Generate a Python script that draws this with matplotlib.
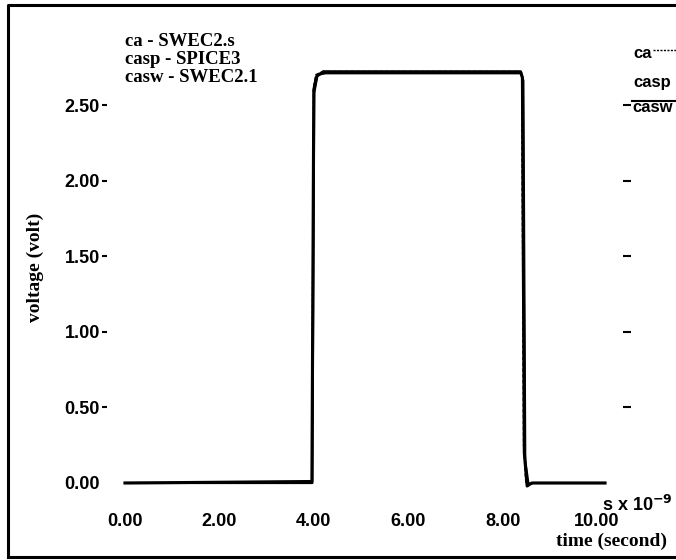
import matplotlib
matplotlib.use('Agg')
import matplotlib.pyplot as plt
from matplotlib.lines import Line2D

# waveforms (time in ns, voltage in volt)
t_ca = [0.0, 3.96, 4.00, 4.06, 4.20, 8.38, 8.42, 8.46, 8.52, 8.62, 10.17]
v_ca = [0.0, 0.01, 2.60, 2.69, 2.72, 2.72, 2.68, 0.20, -0.02, 0.0, 0.0]
t_casp = [0.0, 3.97, 4.01, 4.08, 4.25, 8.40, 8.44, 8.48, 8.55, 8.65, 10.17]
v_casp = [0.0, 0.0, 2.58, 2.70, 2.71, 2.71, 2.66, 0.15, -0.01, 0.0, 0.0]
t_casw = [0.0, 3.96, 4.00, 4.05, 4.20, 8.37, 8.41, 8.45, 8.50, 8.60, 10.17]
v_casw = [0.0, 0.0, 2.62, 2.70, 2.72, 2.72, 2.69, 0.25, -0.01, 0.0, 0.0]

xticks = [0, 2, 4, 6, 8, 10]
yticks = [0.5, 1.0, 1.5, 2.0, 2.5]
legend_lines = ['ca - SWEC2.s', 'casp - SPICE3', 'casw - SWEC2.1']

W, H = 676, 560
fig = plt.figure(figsize=(W / 100, H / 100), dpi=100)

def px(x, y):
    return x / W, 1 - y / H

# axes placed in pixel units
ax = fig.add_axes([107 / W, (H - 495) / H, 520 / W, 455 / H])
ax.plot(t_ca, v_ca, color='black', lw=2.2)
ax.plot(t_casp, v_casp, color='black', lw=1.6)
ax.plot(t_casw, v_casw, color='black', lw=1.4, ls=(0, (2, 1)))
ax.set_xlim(-0.381, 10.636)
ax.set_ylim(-0.0794, 2.930)
for s in ax.spines.values():
    s.set_visible(False)

sans = 'Liberation Sans'
ax.set_xticks(xticks)
ax.set_xticklabels(['%.2f' % v for v in xticks], fontfamily=sans, fontweight='bold', fontsize=13)
ax.set_yticks(yticks)
ax.set_yticklabels(['%.2f' % v for v in yticks], fontfamily=sans, fontweight='bold', fontsize=13)
# 0.00 has a label but no dash
ax.set_yticks([0.0], minor=True)
ax.set_yticklabels(['0.00'], minor=True, fontfamily=sans, fontweight='bold', fontsize=13)
ax.tick_params(axis='x', length=0, pad=12.6)
ax.tick_params(axis='y', which='major', direction='out', length=3.6, width=1.5, pad=1.5)
ax.tick_params(axis='y', which='minor', length=0, pad=5.1)

ax2 = ax.twinx()
ax2.set_ylim(ax.get_ylim())
ax2.set_yticks(yticks)
ax2.set_yticklabels([])
ax2.tick_params(axis='y', direction='inout', length=5.8, width=1.5)
for s in ax2.spines.values():
    s.set_visible(False)

serif = 'Liberation Serif'
for i, s in enumerate(legend_lines):
    fig.text(*px(125, 42 + i * 18), s, fontfamily=serif, fontweight='bold',
             fontsize=13.5, va='center', ha='left')

fig.text(*px(35, 267), 'voltage (volt)', rotation=90, fontfamily=serif,
         fontweight='bold', fontsize=14, ha='center', va='center')
fig.text(*px(612, 541), 'time (second)', fontfamily=serif, fontweight='bold',
         fontsize=14, ha='center', va='center')
fig.text(*px(602, 505), r's x 10$^{\mathbf{-9}}$', fontfamily=sans, fontweight='bold',
         fontsize=13, ha='left', va='center')

# clipped legend on the right
fig.text(*px(633, 53), 'ca', fontfamily=sans, fontweight='bold', fontsize=12, va='center')
fig.add_artist(Line2D([653 / W, 676 / W], [1 - 50 / H, 1 - 50 / H], color='black', lw=1, ls=(0, (1.5, 1))))
fig.text(*px(633, 82), 'casp', fontfamily=sans, fontweight='bold', fontsize=12, va='center')
fig.text(*px(632, 107), 'casw', fontfamily=sans, fontweight='bold', fontsize=12, va='center')
fig.add_artist(Line2D([632 / W, 676 / W], [1 - 101 / H, 1 - 101 / H], color='black', lw=1.5))

# page frame
fig.add_artist(Line2D([8 / W, 8 / W, 1.0], [1 - 557 / H, 1 - 5 / H, 1 - 5 / H], color='black', lw=2.2))
fig.add_artist(Line2D([8 / W, 1.0], [1 - 557 / H, 1 - 557 / H], color='black', lw=2.2))

fig.savefig('out.png', dpi=100)
